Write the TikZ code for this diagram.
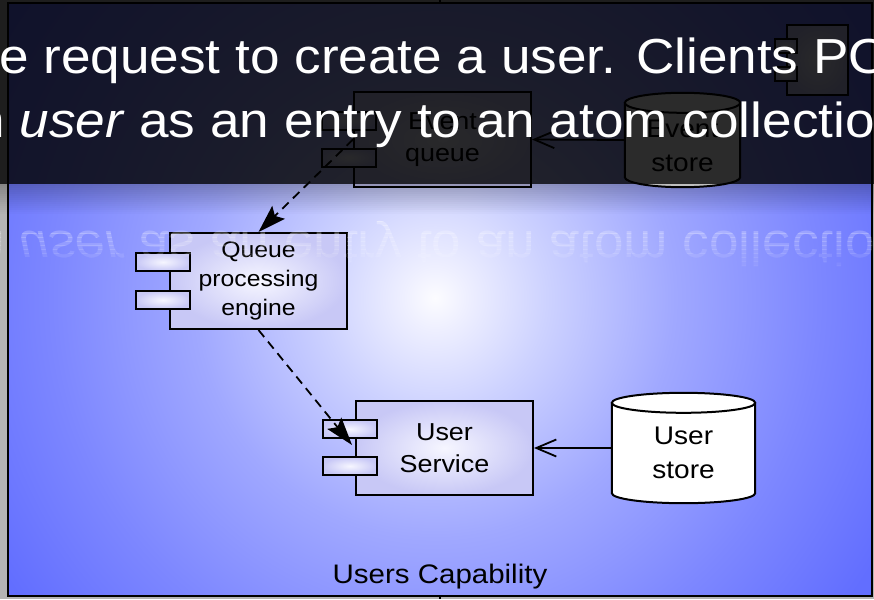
\documentclass[tikz,border=0pt]{standalone}
\usepackage{fontspec}
\setmainfont[FakeStretch=1.1]{Liberation Sans}
\newfontfamily\headfont[FakeStretch=1.08]{Liberation Sans}
\usetikzlibrary{arrows.meta,calc}

\definecolor{pagegrey}{RGB}{180,180,180}
\definecolor{glowcore}{RGB}{252,252,255}
\definecolor{glowone}{RGB}{238,239,255}
\definecolor{glowtwo}{RGB}{205,210,255}
\definecolor{glowthree}{RGB}{160,168,255}
\definecolor{glowfour}{RGB}{125,135,255}
\definecolor{glowedge}{RGB}{98,110,255}
\definecolor{boxin}{RGB}{246,246,255}
\definecolor{boxout}{RGB}{200,200,246}

\pgfdeclareradialshading{capglow}{\pgfpoint{0bp}{0bp}}{color(0bp)=(glowcore); color(1bp)=(glowone); color(3.5bp)=(glowtwo); color(7.5bp)=(glowthree); color(12bp)=(glowfour); color(16bp)=(glowedge); color(50bp)=(glowedge)}

% cylinder drawn inside the box of a named node
\newcommand\drawcyl[1]{%
  \path let \p1=(#1.north west), \p2=(#1.south east), \n1={(\x2-\x1)/2} in
    [fill=white, draw, line width=2pt]
    (\x1,\y1-10pt) -- (\x1,\y2+10pt)
      arc[start angle=180, end angle=360, x radius=\n1, y radius=10pt]
      -- (\x2,\y1-10pt)
      arc[start angle=0, end angle=180, x radius=\n1, y radius=10pt]
    (\x1+\n1,\y1-10pt) ellipse[x radius=\n1, y radius=10pt];}

\tikzset{
  comp/.style={draw, line width=2pt, inner color=boxin, outer color=boxout,
    inner sep=0pt, align=center, minimum width=177pt, minimum height=95pt},
  port/.style={draw, line width=2pt, inner color=boxin, outer color=boxout,
    inner sep=0pt, minimum width=54pt, minimum height=18pt},
  storeframe/.style={inner sep=0pt, minimum width=143pt, minimum height=110pt},
  label/.style={inner sep=0pt, align=center},
  svcfont/.style={font=\fontsize{24.5}{32}\selectfont},
  storefont/.style={font=\fontsize{25.5}{34}\selectfont},
  dep/.style={line width=1.8pt, dash pattern=on 9pt off 6pt,
    -{Stealth[length=28pt, width=18pt, inset=5pt]}},
  feed/.style={line width=1.8pt, -{Straight Barb[length=20pt, width=17pt, line width=1.8pt]}},
  headtext/.style={text=white, inner sep=0pt, anchor=base west,
    font=\headfont\fontsize{49.2}{60}\selectfont},
}

\begin{document}
\begin{tikzpicture}[x=1pt,y=-1pt]
\useasboundingbox (0,0) rectangle (874,599);
\fill[pagegrey] (0,0) rectangle (874,599);

% capability frame with its glow
\begin{scope}
  \clip (8,3) rectangle (872,596);
  \fill[glowedge] (8,3) rectangle (872,596);
  \shade[shading=capglow] (435,298) circle[radius=800pt];
\end{scope}
\draw[line width=2.4pt] (8,3) rectangle (872,596);
\draw[line width=1.4pt] (440,0) -- (440,3) (440,596) -- (440,599);

\node[label, font=\fontsize{26.8}{30}\selectfont, anchor=base] (caplabel) at (440,583) {Users Capability};

% top right component
\node[comp, minimum width=61pt, minimum height=70pt] (extra) at (817.5,60) {};
\node[port, minimum width=22pt, minimum height=14pt] (extraA) at ([xshift=0pt,yshift=14pt]extra.west) {};
\node[port, minimum width=22pt, minimum height=14pt] (extraB) at ([xshift=0pt,yshift=-14pt]extra.west) {};

% event queue
\node[comp, svcfont] (equeue) at (442.5,139.5) {Event\\queue};
\node[port] (equeueA) at ([xshift=-4pt,yshift=19pt]equeue.west) {};
\node[port] (equeueB) at ([xshift=-4pt,yshift=-18pt]equeue.west) {};

% event store
\node[storeframe, minimum width=115pt, minimum height=94pt] (estore) at (682.5,140) {};
\drawcyl{estore}
\node[label, storefont] (estoretext) at (682.5,146) {Event\\store};

% queue processing engine
\node[comp, font=\fontsize{22.5}{29}\selectfont, minimum height=96pt] (qpe) at (258.5,281) {Queue\\processing\\engine};
\node[port] (qpeA) at ([xshift=-6pt,yshift=19pt]qpe.west) {};
\node[port] (qpeB) at ([xshift=-6pt,yshift=-19pt]qpe.west) {};

% user service
\node[comp, svcfont, minimum height=94pt] (usvc) at (444.5,448) {User\\Service};
\node[port] (usvcA) at ([xshift=-5pt,yshift=19pt]usvc.west) {};
\node[port] (usvcB) at ([xshift=-5pt,yshift=-18pt]usvc.west) {};

% user store
\node[storeframe] (ustore) at (683.5,448) {};
\drawcyl{ustore}
\node[label, storefont] (ustoretext) at (683.5,452.5) {User\\store};

% connectors
\draw[feed] (estore.west) -- (equeue.east);
\draw[feed] (ustore.west) -- (usvc.east);
\draw[dep] (equeue.west) -- (qpe.north);
\draw[dep] (qpe.south) -- ([xshift=-3pt,yshift=3pt]usvc.west);

% dark caption band
\fill[black, opacity=0.83] (0,0) rectangle (874,184);
\foreach \i in {0,...,14}{
  \pgfmathsetmacro\shadeop{0.25*(1-\i/15)}
  \fill[black, opacity=\shadeop] (0,{184+2*\i}) rectangle (874,{186+2*\i});
}

\node[headtext] (headA) at (-1,74) {e request to create a user. Clients PO};
\node[headtext] (headB) at (-25,137) {n \textit{user} as an entry to an atom collectio};

% mirrored caption fading downwards
\foreach \i in {0,...,21}{
  \pgfmathsetmacro\reflop{0.45*(1-\i/22)}
  \begin{scope}
    \clip (0,{185+4*\i}) rectangle (874,{189+4*\i});
    \node[headtext, yscale=-1, opacity=\reflop] (refl\i) at (-25,231) {n \textit{user} as an entry to an atom collectio};
  \end{scope}
}
\end{tikzpicture}
\end{document}
